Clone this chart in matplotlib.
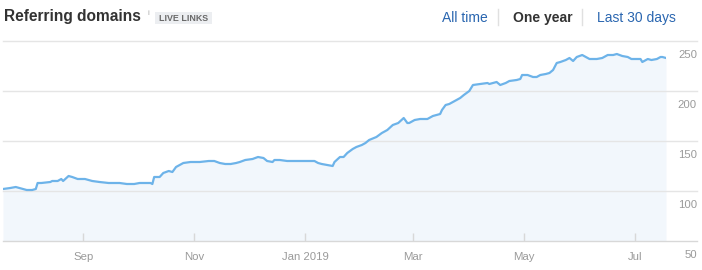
import matplotlib
matplotlib.use("Agg")
import matplotlib.pyplot as plt
import matplotlib.dates as mdates
import matplotlib.transforms as mtransforms
import numpy as np
import datetime as dt

plt.rcParams['font.family'] = ['Liberation Sans', 'DejaVu Sans']

# ---- data ----
start_date = "2018-07-19"
day_offsets = [0, 4, 7, 9, 13, 16, 18, 19, 21, 26, 27, 30, 32, 33, 36, 38, 41, 45, 49, 53,
               58, 60, 64, 68, 72, 75, 81, 82, 83, 86, 88, 91, 93, 95, 97, 99, 103, 108, 113,
               116, 119, 122, 125, 128, 130, 133, 137, 140, 143, 145, 148, 149, 152, 156, 161,
               167, 171, 173, 175, 178, 181, 182, 185, 187, 189, 192, 194, 197, 199, 201, 205,
               208, 211, 214, 217, 220, 222, 223, 226, 229, 233, 236, 238, 240, 241, 243, 245,
               248, 251, 253, 256, 258, 262, 266, 267, 271, 273, 276, 278, 282, 284, 285, 288,
               291, 293, 295, 298, 300, 302, 304, 306, 309, 311, 313, 315, 318, 322, 326, 329,
               332, 335, 337, 340, 343, 345, 350, 351, 354, 356, 359, 361, 362, 364]
domains = [102, 103, 104, 103, 101, 101, 102, 108, 108, 109, 110, 110, 112, 110, 115, 114, 112,
           112, 110, 109, 108, 108, 108, 107, 107, 108, 108, 107, 114, 114, 118, 120, 119, 124,
           126, 128, 129, 129, 130, 130, 128, 127, 127, 128, 129, 131, 132, 134, 133, 130, 129,
           131, 131, 130, 130, 130, 130, 128, 127, 126, 125, 129, 134, 134, 138, 142, 144, 146,
           148, 151, 154, 158, 161, 166, 168, 173, 168, 168, 171, 172, 172, 175, 176, 177, 181,
           186, 187, 190, 193, 196, 200, 206, 207, 208, 207, 209, 206, 208, 210, 211, 212, 216,
           216, 214, 214, 216, 217, 218, 221, 228, 229, 231, 233, 230, 234, 236, 232, 232, 233,
           236, 236, 237, 235, 234, 232, 232, 229, 232, 231, 232, 234, 234, 233]
month_ticks = ["2018-09-01", "2018-11-01", "2019-01-01", "2019-03-01", "2019-05-01", "2019-07-01"]
month_labels = ["Sep", "Nov", "Jan 2019", "Mar", "May", "Jul"]
y_ticks = [50, 100, 150, 200, 250]
title = "Referring domains"
badge = "LIVE LINKS"
nav_items = ["All time", "One year", "Last 30 days"]

# ---- figure ----
W, H = 702, 270
fig = plt.figure(figsize=(W / 100, H / 100), dpi=100)
fig.patch.set_facecolor("white")

def fx(px):
    return px / W

def fy(py):
    return 1 - py / H

ax_left, ax_right, ax_top, ax_bottom = 3, 666, 41, 241
ax = fig.add_axes([fx(ax_left), fy(ax_bottom), (ax_right - ax_left) / W, (ax_bottom - ax_top) / H])
ax.set_facecolor("none")

base = dt.datetime.strptime(start_date, "%Y-%m-%d")
dates = [base + dt.timedelta(days=d) for d in day_offsets]
xnum = mdates.date2num(dates)

line_color = "#6db3e9"
fill_color = "#f2f7fc"
grid_color = "#e5e5e5"
label_color = "#9a9a9a"

ax.fill_between(xnum, domains, 50, color=fill_color, lw=0, zorder=1)
ax.plot(xnum, domains, color=line_color, lw=1.6, zorder=3, solid_joinstyle="round")

ax.set_xlim(xnum[0], xnum[-1])
ax.set_ylim(y_ticks[0], y_ticks[-1])

# gridlines extending to the right under the labels
ext = (697 - ax_left) / (ax_right - ax_left)
for v in y_ticks:
    c = "#d8d8d8" if v == y_ticks[0] else grid_color
    ax.axhline(v, xmin=0, xmax=ext, color=c, lw=1.0, clip_on=False, zorder=2)

# y labels under their gridlines
trans = mtransforms.blended_transform_factory(ax.transAxes, ax.transData)
trans_off = mtransforms.offset_copy(trans, fig=fig, x=0, y=-17, units="dots")
for v in y_ticks:
    ax.text(ext, v, str(v), transform=trans_off, ha="right", va="baseline",
            fontsize=8.2, color=label_color)

# x ticks
tick_nums = mdates.date2num([dt.datetime.strptime(t, "%Y-%m-%d") for t in month_ticks])
ax.set_xticks(tick_nums)
ax.set_xticklabels(month_labels)
ax.tick_params(axis="x", direction="in", length=6, width=1, color="#d8d8d8",
               labelsize=8.2, labelcolor=label_color, pad=8)
ax.set_yticks([])
for s in ax.spines.values():
    s.set_visible(False)

# ---- header ----
fig.text(fx(4), fy(21.5), title, fontsize=11.2, fontweight="bold", color="#333333",
         ha="left", va="baseline")
fig.text(fx(148), fy(15), "i", fontsize=6, color="#b0b0b0", ha="left", va="baseline")
badge_x0, badge_x1, badge_y0, badge_y1 = 155, 212, 12, 24
fig.patches.append(plt.Rectangle((fx(badge_x0), fy(badge_y1)), (badge_x1 - badge_x0) / W,
                                 (badge_y1 - badge_y0) / H, transform=fig.transFigure,
                                 facecolor="#eceef1", edgecolor="none"))
fig.text(fx((badge_x0 + badge_x1) / 2), fy(21), badge, fontsize=6.4, fontweight="bold",
         color="#6a6a6a", ha="center", va="baseline")

nav_x = [442, 513, 597]
nav_colors = ["#2a66b0", "#333333", "#2a66b0"]
nav_weights = ["normal", "bold", "normal"]
for x, t, c, w in zip(nav_x, nav_items, nav_colors, nav_weights):
    fig.text(fx(x), fy(22), t, fontsize=10, color=c, fontweight=w, ha="left", va="baseline")
for sx in [498, 582]:
    fig.add_artist(plt.Line2D([fx(sx), fx(sx)], [fy(9), fy(25)], transform=fig.transFigure,
                              color="#e0e0e0", lw=1))

fig.savefig("out.png", dpi=100, facecolor="white")
